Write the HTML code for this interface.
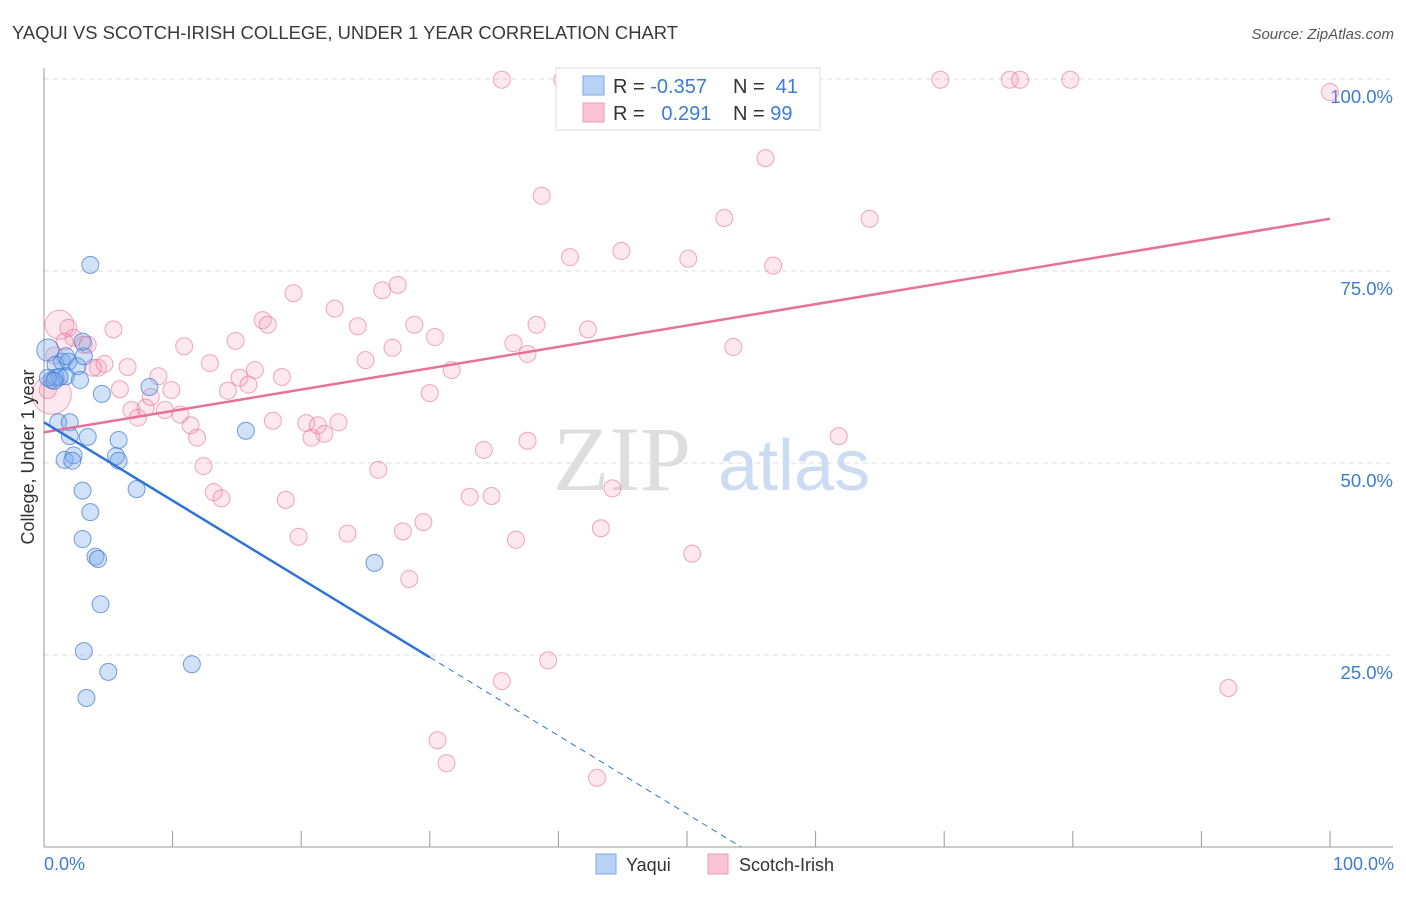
<!DOCTYPE html>
<html><head><meta charset="utf-8"><style>
body{margin:0;background:#fff;font-family:"Liberation Sans",sans-serif;}
svg text{font-family:"Liberation Sans",sans-serif;}
</style></head><body>
<svg id="chart" width="1406" height="892" xmlns="http://www.w3.org/2000/svg">
<text x="12" y="39" font-size="18.4" fill="#3a3a3a">YAQUI VS SCOTCH-IRISH COLLEGE, UNDER 1 YEAR CORRELATION CHART</text>
<text x="1394" y="39" font-size="15" fill="#555" text-anchor="end" font-style="italic">Source: ZipAtlas.com</text>
<g id="grid"></g>
<text x="553" y="490" font-size="92" fill="#dedede" font-family="Liberation Serif" style="font-family:'Liberation Serif',serif">ZIP</text>
<text x="718" y="490" font-size="72" fill="#ccdcf2">atlas</text>
<g id="pts"></g>
<g id="lines"></g>
<text transform="translate(34,457) rotate(-90)" font-size="18" fill="#333" text-anchor="middle">College, Under 1 year</text>
<text x="44" y="870" font-size="18" fill="#3d7bd6">0.0%</text>
<text x="1394" y="870" font-size="18" fill="#3d7bd6" text-anchor="end">100.0%</text>
<g>
<rect x="556" y="68" width="264" height="62" fill="#fff" stroke="#ddd"/>
<rect x="583" y="76" width="21" height="19" fill="#b7d2f5" stroke="#7aa8e6"/>
<rect x="583" y="103" width="21" height="19" fill="#fcc5d5" stroke="#ef9ab4"/>
<text x="613" y="93" font-size="20" fill="#333">R = <tspan fill="#3d7bd6">-0.357</tspan></text>
<text x="733" y="93" font-size="20" fill="#333">N = <tspan fill="#3d7bd6">&#160;41</tspan></text>
<text x="613" y="120" font-size="20" fill="#333">R = <tspan fill="#3d7bd6">&#160;&#160;0.291</tspan></text>
<text x="733" y="120" font-size="20" fill="#333">N = <tspan fill="#3d7bd6">99</tspan></text>
</g>
<g>
<rect x="596" y="854" width="20" height="20" fill="#b7d2f5" stroke="#7aa8e6"/>
<text x="626" y="871" font-size="18" fill="#333">Yaqui</text>
<rect x="708" y="854" width="20" height="20" fill="#fcc5d5" stroke="#ef9ab4"/>
<text x="739" y="871" font-size="18" fill="#333">Scotch-Irish</text>
</g>
</svg>
<script>
const yTicks=[25,50,75,100];
const yTickLabels=["25.0%","50.0%","75.0%","100.0%"];
const xTicks=[0,10,20,30,40,50,60,70,80,90,100];
const yaquiX=[3.6,0.3,1.4,0.9,1.9,2.6,3.1,1.7,0.6,0.9,1.2,4.5,8.2,1.1,2.0,2.0,3.4,5.8,1.6,2.3,2.2,5.6,5.8,15.7,3.0,7.2,3.6,3.0,4.0,4.2,4.4,3.1,5.0,11.5,25.7,3.3,0.3,0.8,1.7,3.0,2.8];
const yaquiY=[75.8,64.7,63.2,62.8,63.2,62.6,63.9,61.3,60.8,61.1,61.2,59.0,59.9,55.3,55.3,53.5,53.4,53.0,50.4,51.0,50.3,50.9,50.3,54.2,46.4,46.6,43.6,40.1,37.8,37.5,31.6,25.5,22.8,23.8,37.0,19.4,61.1,60.7,63.9,65.8,60.8];
const yaquiSize=[1,1.3,1,1,1,1,1,1,1,1,1,1,1,1,1,1,1,1,1,1,1,1,1,1,1,1,1,1,1,1,1,1,1,1,1,1,1,1,1,1,1];
const scotX=[1.2,1.9,2.3,3.1,3.4,0.6,0.3,5.4,4.2,4.7,6.5,5.9,6.8,7.3,7.9,8.3,8.9,9.9,9.4,10.6,10.9,11.4,11.9,12.4,12.9,13.2,13.8,14.3,14.9,15.2,15.9,16.4,17.0,17.4,17.8,18.5,18.8,19.4,19.8,20.4,20.8,21.3,21.8,22.6,22.9,23.6,24.4,25.0,26.0,26.3,27.1,27.5,27.9,28.4,28.8,29.5,30.0,30.4,30.6,31.3,31.7,33.1,34.2,34.8,35.6,35.6,36.5,36.7,37.6,37.6,38.3,38.7,39.2,40.3,40.9,42.3,43.0,43.3,44.2,44.9,46.0,50.1,50.4,51.6,52.9,53.6,56.1,56.7,61.8,64.2,69.7,75.1,75.9,79.8,92.1,100,3.8,1.6,0.8];
const scotY=[68.0,67.6,66.3,65.4,65.4,58.9,59.5,67.4,62.4,62.9,62.5,59.6,56.9,55.9,57.2,58.6,61.3,59.5,56.9,56.3,65.2,54.9,53.3,49.6,63.0,46.2,45.4,59.4,65.9,61.1,60.2,62.1,68.6,68.0,55.5,61.2,45.2,72.1,40.4,55.2,53.3,54.9,53.8,70.1,55.3,40.8,67.8,63.4,49.1,72.5,65.0,73.2,41.1,34.9,68.0,42.3,59.1,66.4,13.9,10.9,62.1,45.6,51.7,45.7,99.9,21.6,65.6,40.0,64.2,52.9,68.0,84.8,24.3,99.9,76.8,67.4,9.0,41.5,46.7,77.6,99.9,76.6,38.2,99.9,81.9,65.1,89.7,75.7,53.5,81.8,99.9,99.9,99.9,99.9,20.7,98.3,62.4,65.8,64.0];
const scotSize=[1.7,1,1,1,1,2.3,1,1,1,1,1,1,1,1,1,1,1,1,1,1,1,1,1,1,1,1,1,1,1,1,1,1,1,1,1,1,1,1,1,1,1,1,1,1,1,1,1,1,1,1,1,1,1,1,1,1,1,1,1,1,1,1,1,1,1,1,1,1,1,1,1,1,1,1,1,1,1,1,1,1,1,1,1,1,1,1,1,1,1,1,1,1,1,1,1,1,1,1,1];
const yaquiTrend=[55.3,-1.02];
const scotTrend=[54.0,0.278];
const NS="http://www.w3.org/2000/svg";
const X=v=>44+v*12.86, Y=v=>847-v*7.68;
function mk(t,a,p){const e=document.createElementNS(NS,t);for(const k in a)e.setAttribute(k,a[k]);p.appendChild(e);return e;}
const grid=document.getElementById('grid');
yTicks.forEach((t,i)=>{
 const l=mk('line',{x1:44,x2:1393,y1:Y(t),y2:Y(t),stroke:'#ddd','stroke-dasharray':'5,4'},grid);
 
 
 const tx=mk('text',{x:1393,y:Y(t)+24,'font-size':18.5,fill:'#3d7bd6','text-anchor':'end'},grid);
 tx.textContent=yTickLabels[i];
 
 
});
const ax=mk('line',{x1:44,x2:44,y1:68,y2:847,stroke:'#999'},grid);


const bx=mk('line',{x1:44,x2:1393,y1:847,y2:847,stroke:'#999'},grid);


xTicks.forEach(t=>{const l=mk('line',{x1:X(t),x2:X(t),y1:831,y2:847,stroke:'#999'},grid);
 
 });
const pts=document.getElementById('pts');
scotX.forEach((v,i)=>{const c=mk('circle',{cx:X(v),cy:Y(scotY[i]),r:8.5*scotSize[i],fill:'rgba(245,150,180,0.22)',stroke:'rgba(230,110,150,0.6)','stroke-width':1},pts);
 
 });
yaquiX.forEach((v,i)=>{const c=mk('circle',{cx:X(v),cy:Y(yaquiY[i]),r:8.5*yaquiSize[i],fill:'rgba(120,170,235,0.35)',stroke:'rgba(60,120,210,0.7)','stroke-width':1},pts);
 
 });
const ln=document.getElementById('lines');
const p=mk('line',{x1:X(0),y1:Y(scotTrend[0]),x2:X(100),y2:Y(scotTrend[0]+100*scotTrend[1]),stroke:'#e8709a','stroke-width':2.5},ln);


const b=mk('line',{x1:X(0),y1:Y(yaquiTrend[0]),x2:X(30),y2:Y(yaquiTrend[0]+30*yaquiTrend[1]),stroke:'#2f73d8','stroke-width':2.5},ln);


const xe=-yaquiTrend[0]/yaquiTrend[1];
const bd=mk('line',{x1:X(30),y1:Y(yaquiTrend[0]+30*yaquiTrend[1]),x2:X(xe),y2:Y(0),stroke:'#2f73d8','stroke-width':1,'stroke-dasharray':'6,5'},ln);


</script>
</body></html>
